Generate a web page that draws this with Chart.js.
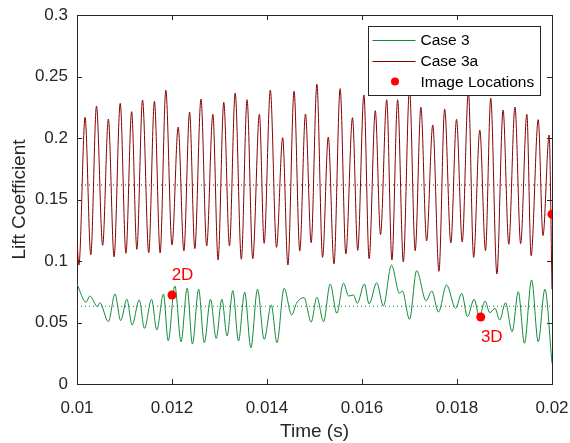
<!DOCTYPE html>
<html>
<head>
<meta charset="utf-8">
<script src="https://cdn.jsdelivr.net/npm/chart.js@4.4.1/dist/chart.umd.min.js"></script>
<style>
  html, body { margin: 0; padding: 0; background: #fff; }
  #chart { display: block; }
</style>
</head>
<body>
<canvas id="chart" width="570" height="443"></canvas>
<script>
// values (peaks / troughs)
const case3aTime = [0.0100, 0.01004, 0.01017, 0.01029, 0.01041, 0.01054, 0.01066, 0.01078, 0.01091, 0.01103,
  0.01115, 0.01126, 0.01138, 0.01151, 0.01163, 0.01175, 0.01187, 0.01200, 0.01213, 0.01225,
  0.01237, 0.01248, 0.01261, 0.01273, 0.01286, 0.01297, 0.01309, 0.01321, 0.01333, 0.01346,
  0.01358, 0.01370, 0.01384, 0.01394, 0.01407, 0.01420, 0.01433, 0.01444, 0.01457, 0.01469,
  0.01481, 0.01493, 0.01505, 0.01517, 0.01529, 0.01541, 0.01554, 0.01566, 0.01580, 0.01591,
  0.01604, 0.01615, 0.01628, 0.01639, 0.01652, 0.01663, 0.01675, 0.01687, 0.01700, 0.01712,
  0.01724, 0.01736, 0.01749, 0.01762, 0.01774, 0.01787, 0.01799, 0.01811, 0.01824, 0.01835,
  0.01848, 0.01860, 0.01871, 0.01884, 0.01897, 0.01909, 0.01922, 0.01934, 0.01947, 0.01956,
  0.01971, 0.01981, 0.01994, 0.0200];
const case3aLift = [0.1157, 0.0967, 0.2168, 0.1049, 0.2260, 0.1128, 0.2154, 0.1033, 0.2282, 0.1063,
  0.2214, 0.1095, 0.2309, 0.1067, 0.2298, 0.1065, 0.2388, 0.1130, 0.2089, 0.1081,
  0.2211, 0.1100, 0.2317, 0.1122, 0.2193, 0.1008, 0.2290, 0.1122, 0.2366, 0.1014,
  0.2311, 0.1019, 0.2193, 0.1144, 0.2390, 0.1111, 0.2002, 0.0967, 0.2380, 0.1081,
  0.2195, 0.1149, 0.2437, 0.1030, 0.2008, 0.0976, 0.2401, 0.1057, 0.2165, 0.1087,
  0.2350, 0.1019, 0.2222, 0.1214, 0.2311, 0.1008, 0.2311, 0.0992, 0.2400, 0.1084,
  0.2250, 0.1163, 0.2106, 0.0916, 0.2236, 0.1146, 0.2152, 0.1154, 0.2380, 0.1030,
  0.2065, 0.1084, 0.2323, 0.0894, 0.2228, 0.1136, 0.2252, 0.1141, 0.2193, 0.1043,
  0.2149, 0.1206, 0.2024, 0.0770];

const case3Time = [0.0100, 0.01019, 0.01027, 0.01043, 0.01048, 0.01066, 0.01080, 0.01092, 0.01105, 0.01116,
  0.01131, 0.01142, 0.01157, 0.01168, 0.01182, 0.01192, 0.01206, 0.01219, 0.01232, 0.01243,
  0.01256, 0.01268, 0.01281, 0.01293, 0.01305, 0.01316, 0.01328, 0.01340, 0.01353, 0.01366,
  0.01380, 0.01394, 0.01409, 0.01421, 0.01436, 0.01452, 0.01462, 0.01478, 0.01493, 0.01505,
  0.01519, 0.01533, 0.01547, 0.01561, 0.01572, 0.01582, 0.01590, 0.01605, 0.01615, 0.01631,
  0.01645, 0.01662, 0.01679, 0.01685, 0.01700, 0.01715, 0.01735, 0.01747, 0.01761, 0.01778,
  0.01797, 0.01810, 0.01822, 0.01836, 0.01847, 0.01859, 0.01869, 0.01880, 0.01890, 0.01902,
  0.01916, 0.01929, 0.01942, 0.01957, 0.01971, 0.01985, 0.0200];
const case3Lift = [0.0813, 0.0664, 0.0715, 0.0629, 0.0661, 0.0507, 0.0732, 0.0515, 0.0689, 0.0480,
  0.0683, 0.0453, 0.0689, 0.0439, 0.0732, 0.0352, 0.0797, 0.0344, 0.0778, 0.0325,
  0.0770, 0.0336, 0.0689, 0.0371, 0.0689, 0.0390, 0.0759, 0.0350, 0.0746, 0.0295,
  0.0770, 0.0363, 0.0642, 0.0336, 0.0778, 0.0561, 0.0656, 0.0702, 0.0504, 0.0705,
  0.0507, 0.0813, 0.0575, 0.0819, 0.0715, 0.0724, 0.0656, 0.0813, 0.0650, 0.0824,
  0.0634, 0.0967, 0.0737, 0.0756, 0.0526, 0.0921, 0.0677, 0.0756, 0.0585, 0.0805,
  0.0615, 0.0737, 0.0547, 0.0689, 0.0547, 0.0675, 0.0580, 0.0615, 0.0520, 0.0661,
  0.0425, 0.0750, 0.0331, 0.0846, 0.0344, 0.0770, 0.0168];

const imageTime = [0.0120, 0.0185, 0.0200];
const imageLift = [0.0724, 0.0545, 0.1380];
const imageNames = ['2D', '3D', ''];

const meanCase3 = 0.0632;
const meanCase3a = 0.1618;

const xTicksStep = 0.002;
const yTicksStep = 0.05;

const FONT = '"Liberation Sans", Arial, Helvetica, sans-serif';
const AXIS = '#262626';
const GREEN = '#118a3a';
const DARKRED = '#860000';

const toXY = (xs, ys) => xs.map((x, i) => ({ x: x, y: ys[i] }));
const fmt = v => parseFloat(v.toFixed(4)).toString();

const framePlugin = {
    id: 'frame',
    beforeDatasetsDraw(chart) {
        const { ctx, chartArea: a, scales } = chart;
        ctx.save();
        ctx.strokeStyle = AXIS;
        ctx.lineWidth = 1;
        ctx.beginPath();
        scales.x.ticks.forEach(t => {
            const px = Math.round(scales.x.getPixelForValue(t.value)) + 0.5;
            ctx.moveTo(px, a.bottom); ctx.lineTo(px, a.bottom - 5);
            ctx.moveTo(px, a.top); ctx.lineTo(px, a.top + 5);
        });
        scales.y.ticks.forEach(t => {
            const py = Math.round(scales.y.getPixelForValue(t.value)) + 0.5;
            ctx.moveTo(a.left, py); ctx.lineTo(a.left + 5, py);
            ctx.moveTo(a.right, py); ctx.lineTo(a.right - 5, py);
        });
        ctx.stroke();
        ctx.strokeRect(Math.round(a.left) + 0.5, Math.round(a.top) + 0.5,
            Math.round(a.right - a.left), Math.round(a.bottom - a.top));
        ctx.restore();
    },
    afterDraw(chart) {
        const { ctx, chartArea: a, scales } = chart;
        ctx.save();
        // axis titles
        ctx.fillStyle = AXIS;
        ctx.font = '19px ' + FONT;
        ctx.textAlign = 'center';
        ctx.textBaseline = 'alphabetic';
        ctx.fillText('Time (s)', (a.left + a.right) / 2, 437);
        ctx.textBaseline = 'middle';
        ctx.save();
        ctx.translate(20, (a.top + a.bottom) / 2);
        ctx.rotate(-Math.PI / 2);
        ctx.fillText('Lift Coefficient', 0, 0);
        ctx.restore();

        // image location labels
        ctx.fillStyle = '#ff0000';
        ctx.font = '17px ' + FONT;
        const offs = [[10.5, -20], [11, 20], [0, 0]];
        imageTime.forEach((t, i) => {
            if (!imageNames[i]) return;
            const px = scales.x.getPixelForValue(t);
            const py = scales.y.getPixelForValue(imageLift[i]);
            ctx.fillText(imageNames[i], px + offs[i][0], py + offs[i][1]);
        });

        // legend
        const lx = Math.round(a.right - 184) + 0.5, ly = Math.round(a.top + 11) + 0.5;
        const lw = 172, lh = 69;
        ctx.fillStyle = '#ffffff';
        ctx.fillRect(lx, ly, lw, lh);
        ctx.strokeStyle = AXIS;
        ctx.lineWidth = 1;
        ctx.strokeRect(lx, ly, lw, lh);
        const rows = [
            { label: 'Case 3', color: GREEN, type: 'line' },
            { label: 'Case 3a', color: DARKRED, type: 'line' },
            { label: 'Image Locations', color: '#ff0000', type: 'dot' }
        ];
        ctx.font = '15.5px ' + FONT;
        ctx.textAlign = 'left';
        rows.forEach((r, i) => {
            const ry = ly + 13 + i * 21;
            if (r.type === 'line') {
                ctx.strokeStyle = r.color;
                ctx.beginPath();
                ctx.moveTo(lx + 4, Math.round(ry) + 0.5);
                ctx.lineTo(lx + 47, Math.round(ry) + 0.5);
                ctx.stroke();
            } else {
                ctx.fillStyle = r.color;
                ctx.beginPath();
                ctx.arc(lx + 26.5, ry, 4, 0, Math.PI * 2);
                ctx.fill();
            }
            ctx.fillStyle = '#000000';
            ctx.fillText(r.label, lx + 52, ry + 1);
        });
        ctx.restore();
    }
};

const chart = new Chart(document.getElementById('chart'), {
    type: 'line',
    data: {
        datasets: [
            {
                label: 'Image Locations',
                data: toXY(imageTime, imageLift),
                showLine: false,
                pointRadius: 4.5,
                pointBackgroundColor: '#ff0000',
                pointBorderWidth: 0,
                order: 0
            },
            {
                label: 'Case 3a',
                data: toXY(case3aTime, case3aLift),
                borderColor: DARKRED,
                borderWidth: 1,
                pointRadius: 0,
                cubicInterpolationMode: 'monotone',
                order: 1
            },
            {
                label: 'Case 3',
                data: toXY(case3Time, case3Lift),
                borderColor: GREEN,
                borderWidth: 1,
                pointRadius: 0,
                cubicInterpolationMode: 'monotone',
                order: 2
            },
            {
                label: 'Case 3a mean',
                data: [{ x: 0.01, y: meanCase3a }, { x: 0.02, y: meanCase3a }],
                borderColor: DARKRED,
                borderWidth: 1,
                borderDash: [1, 3],
                pointRadius: 0,
                order: 3
            },
            {
                label: 'Case 3 mean',
                data: [{ x: 0.01, y: meanCase3 }, { x: 0.02, y: meanCase3 }],
                borderColor: GREEN,
                borderWidth: 1,
                borderDash: [1, 3],
                pointRadius: 0,
                order: 4
            }
        ]
    },
    options: {
        responsive: false,
        animation: false,
        devicePixelRatio: 1,
        layout: { padding: { top: 15, right: 18, left: 0, bottom: 0 } },
        plugins: { legend: { display: false }, tooltip: { enabled: false } },
        scales: {
            x: {
                type: 'linear',
                min: 0.01,
                max: 0.02,
                grid: { display: false, drawTicks: false },
                border: { display: false },
                afterFit: s => { s.height = 59; s.paddingLeft = 0; s.paddingRight = 0; },
                ticks: {
                    stepSize: xTicksStep,
                    padding: 14,
                    color: AXIS,
                    font: { family: FONT, size: 17 },
                    maxRotation: 0,
                    callback: fmt
                }
            },
            y: {
                min: 0,
                max: 0.3,
                grid: { display: false, drawTicks: false },
                border: { display: false },
                afterFit: s => { s.width = 77; s.paddingTop = 0; s.paddingBottom = 0; },
                ticks: {
                    stepSize: yTicksStep,
                    padding: 9,
                    color: AXIS,
                    font: { family: FONT, size: 17 },
                    callback: fmt
                }
            }
        }
    },
    plugins: [framePlugin]
});
</script>
</body>
</html>
